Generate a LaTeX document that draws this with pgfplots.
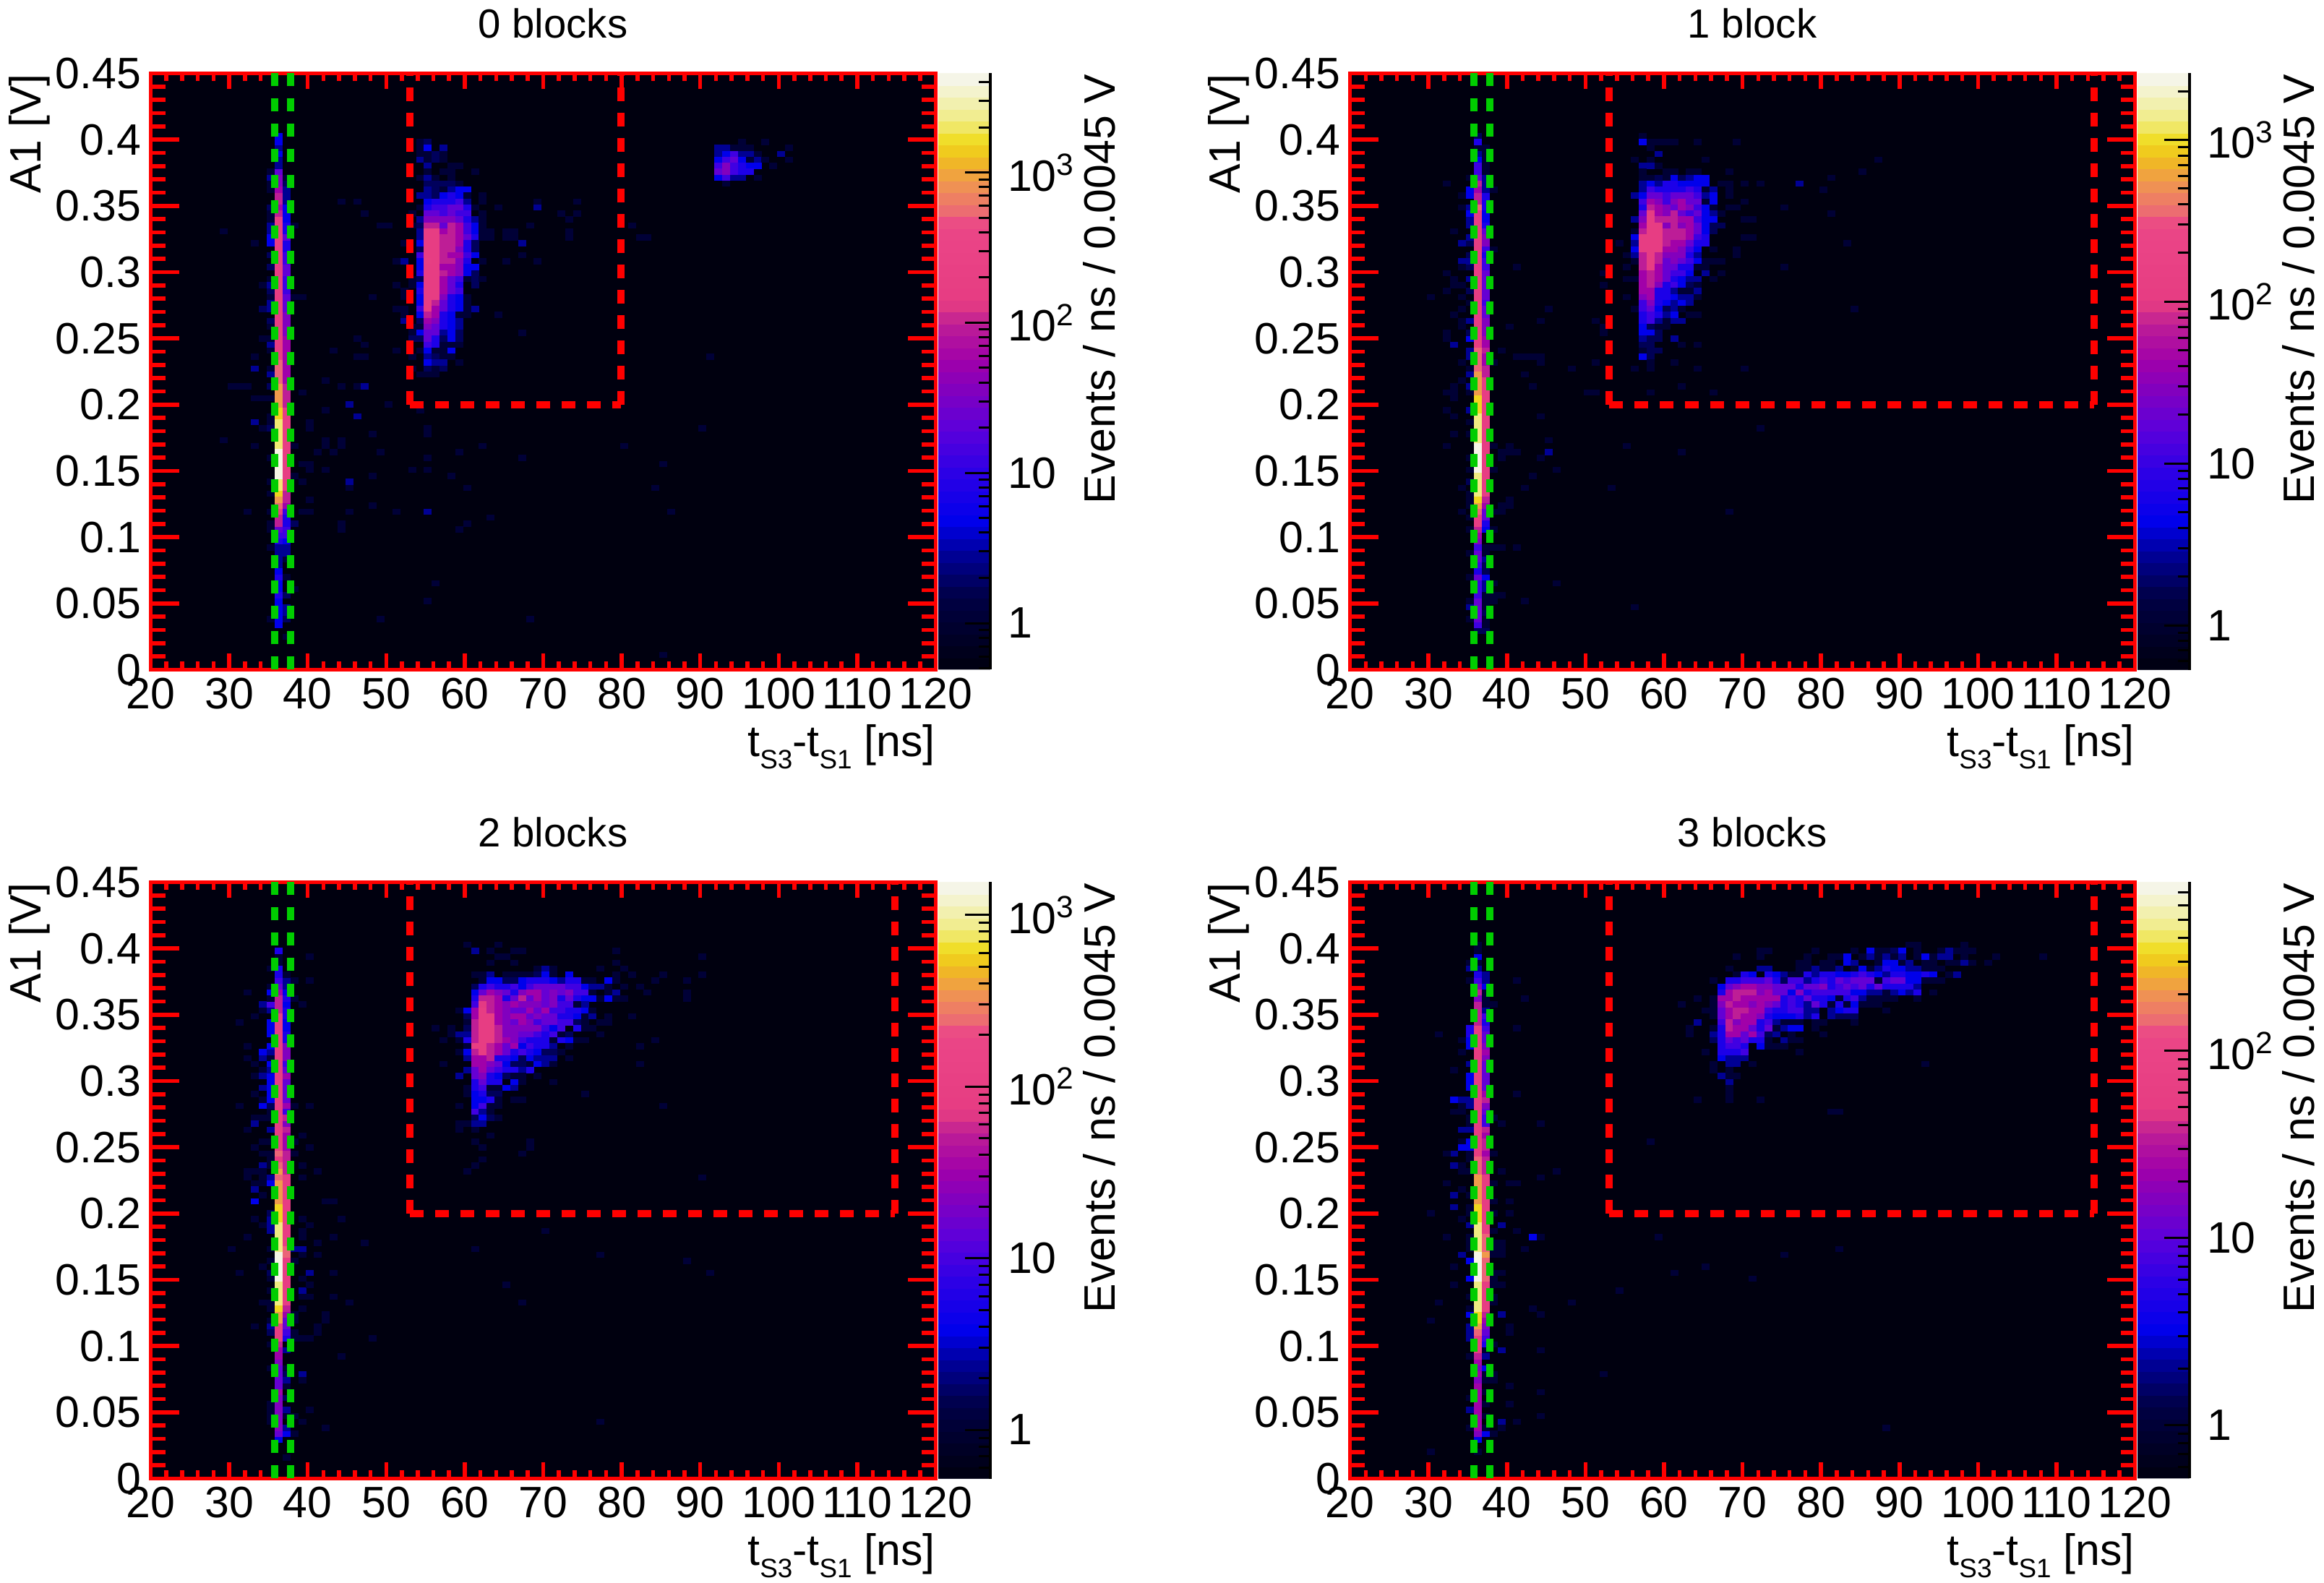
\documentclass[border=0pt]{standalone}
\usepackage{pgfplots}
\usepackage{pgfplotstable}
\usepackage{fontspec}
\setmainfont{Liberation Sans}
\pgfplotsset{compat=1.18}
\definecolor{redline}{RGB}{255,0,0}
\definecolor{greenline}{RGB}{0,205,0}
\definecolor{bgdark}{RGB}{0,0,15}
\pgfdeclareplotmark{cell}{\pgfpathrectangle{\pgfpoint{-1.1bp}{-0.84bp}}{\pgfpoint{2.2bp}{1.68bp}}\pgfusepathqfill}
\pgfplotsset{
  colormap={rootpal}{rgb255(0)=(0,0,15) rgb255(123)=(0,0,70) rgb255(193)=(0,0,150) rgb255(248)=(0,0,235)
    rgb255(331)=(45,0,230) rgb255(400)=(90,0,220) rgb255(470)=(130,0,190) rgb255(518)=(160,0,170)
    rgb255(580)=(190,30,150) rgb255(615)=(230,60,130) rgb255(747)=(235,70,135) rgb255(760)=(235,100,120)
    rgb255(816)=(240,150,80) rgb255(858)=(240,190,30) rgb255(886)=(240,220,30) rgb255(920)=(240,235,130)
    rgb255(983)=(245,245,225) rgb255(1000)=(245,245,240)}}
\newcommand{\fnt}{\fontsize{12.2}{14}\selectfont}
\newcommand{\sub}[1]{\raisebox{-0.55ex}{\fontsize{7.4}{8}\selectfont #1}}
% filled bins: x bin (ns), y bin (0.0045 V), events
% 0 blocks
\pgfplotstableread[row sep=\\]{x y z\\
36 7 4.8\\ 36 8 4.8\\ 36 9 4.8\\ 36 10 4.8\\ 36 11 4.8\\ 36 12 7.7\\ 36 13 4.8\\ 36 14 4.8\\ 36 15 7.7\\ 36 16 4.8\\ 36 17 2.8\\ 36 18 2.8\\ 36 19 2.8\\ 36 20 2.8\\ 36 21 7.7\\ 36 22 13\\ 36 23 22\\ 36 24 98\\ 36 25 98\\ 36 26 157\\ 36 27 510\\ 36 28 880\\ 36 29 1480\\ 36 30 2100\\ 36 31 2100\\ 36 32 4100\\ 36 33 4100\\ 36 34 4100\\ 36 35 4100\\ 36 36 4100\\ 36 37 2100\\ 36 38 2100\\ 36 39 2100\\ 36 40 2100\\ 36 41 2100\\ 36 42 1480\\ 36 43 1480\\ 36 44 880\\ 36 45 880\\ 36 46 880\\ 36 47 880\\ 36 48 510\\ 36 49 510\\ 36 50 510\\ 36 51 510\\
36 52 157\\ 36 53 157\\ 36 54 157\\ 36 55 157\\ 36 56 157\\ 36 57 157\\ 36 58 157\\ 36 59 157\\ 36 60 157\\ 36 61 157\\ 36 62 157\\ 36 63 157\\ 36 64 157\\ 36 65 157\\ 36 66 157\\ 36 67 157\\ 36 68 157\\ 36 69 157\\ 36 70 157\\ 36 71 157\\ 36 72 157\\ 36 73 157\\ 36 74 157\\ 36 75 157\\ 36 76 98\\ 36 77 56\\ 36 78 98\\ 36 79 98\\ 36 80 56\\ 36 81 36\\ 36 82 36\\ 36 83 22\\ 36 84 2.8\\ 36 85 2.8\\ 36 86 4.8\\ 36 87 2.8\\ 36 88 4.8\\ 36 89 4.8\\
37 5 1.1\\ 37 8 1.8\\ 37 9 2.8\\ 37 10 2.8\\ 37 12 1.8\\ 37 15 1.1\\ 37 18 1.1\\ 37 19 2.8\\ 37 20 2.8\\ 37 21 4.8\\ 37 22 13\\ 37 23 13\\ 37 24 7.7\\ 37 25 7.7\\ 37 26 13\\ 37 27 56\\ 37 28 98\\ 37 29 98\\ 37 30 157\\ 37 31 157\\ 37 32 157\\ 37 33 157\\ 37 34 157\\ 37 35 157\\ 37 36 157\\ 37 37 157\\ 37 38 157\\ 37 39 157\\ 37 40 157\\ 37 41 157\\ 37 42 157\\ 37 43 157\\ 37 44 98\\ 37 45 98\\ 37 46 98\\ 37 47 98\\ 37 48 56\\ 37 49 56\\ 37 50 56\\ 37 51 56\\ 37 52 56\\ 37 53 56\\ 37 54 56\\ 37 55 56\\ 37 56 36\\ 37 57 36\\ 37 58 36\\ 37 59 36\\ 37 60 22\\ 37 61 22\\ 37 62 22\\ 37 63 13\\ 37 64 13\\ 37 65 13\\ 37 66 22\\ 37 67 22\\ 37 68 13\\ 37 69 13\\ 37 70 7.7\\ 37 71 7.7\\ 37 72 22\\ 37 73 7.7\\ 37 74 7.7\\ 37 75 4.8\\ 37 76 4.8\\ 37 77 4.8\\ 37 78 2.8\\ 37 79 2.8\\ 37 80 2.8\\ 37 81 1.8\\ 37 82 1.1\\
35 8 1.1\\ 35 20 1.1\\ 35 23 1.1\\ 35 24 1.1\\ 35 26 1.1\\ 35 29 1.1\\ 35 31 1.1\\ 35 35 1.1\\ 35 40 1.8\\ 35 41 1.1\\ 35 42 1.1\\ 35 45 1.1\\ 35 47 1.8\\ 35 49 2.8\\ 35 50 1.1\\ 35 53 1.1\\ 35 54 2.8\\ 35 55 1.1\\ 35 57 1.1\\ 35 58 1.8\\ 35 60 2.8\\ 35 61 2.8\\ 35 62 1.1\\ 35 63 1.8\\ 35 64 2.8\\ 35 65 1.1\\ 35 67 1.8\\ 35 69 1.8\\ 35 71 4.8\\ 35 72 4.8\\ 35 73 2.8\\ 35 74 2.8\\ 35 75 1.1\\ 35 76 1.1\\ 35 77 1.8\\ 35 80 1.1\\ 35 81 1.1\\ 35 82 2.8\\ 35 83 1.1\\
29 73 1.1\\ 29 38 1.1\\ 33 52 1.1\\ 33 50 2.8\\ 33 41 2.8\\ 33 37 1.1\\ 33 45 1.1\\ 33 71 1.1\\ 34 60 1.8\\ 34 64 1.1\\ 34 55 1.1\\ 34 45 1.1\\ 34 40 1.1\\ 30 47 1.1\\ 31 47 1.1\\ 32 47 1.1\\ 32 26 1.1\\
38 74 1.1\\ 38 62 1.1\\ 38 37 1.1\\ 38 32 1.1\\ 38 24 1.8\\ 38 13 1.1\\ 39 62 1.1\\ 39 46 1.1\\ 39 34 1.1\\ 39 31 1.1\\ 39 26 1.1\\ 40 40 1.1\\ 40 34 1.1\\ 40 28 1.1\\ 40 26 1.1\\ 41 36 1.1\\ 42 48 1.1\\ 42 43 1.1\\ 42 37 1.1\\ 42 33 1.1\\ 43 53 1.1\\ 43 36 1.1\\ 44 78 1.1\\ 44 47 1.1\\ 44 37 1.1\\ 44 24 1.1\\ 45 44 2.8\\ 45 31 2.8\\ 45 30 1.1\\ 45 26 1.1\\ 46 78 1.1\\ 46 55 1.1\\ 46 52 1.1\\ 46 47 1.1\\ 46 42 2.8\\
54 88 1.1\\ 55 88 1.8\\ 54 87 1.1\\ 55 87 4.8\\ 57 87 2.8\\ 54 86 1.1\\ 55 86 1.1\\ 56 86 1.8\\ 57 86 1.1\\ 54 85 2.8\\ 55 85 1.1\\ 56 85 1.8\\ 57 85 1.1\\ 55 84 2.8\\ 58 84 1.1\\ 59 84 1.1\\ 55 83 1.1\\ 57 83 1.1\\ 58 83 1.1\\ 61 83 1.1\\ 54 82 1.1\\ 55 82 2.8\\ 56 82 1.1\\ 58 82 1.1\\ 55 81 1.8\\ 56 81 1.8\\ 57 81 1.8\\ 58 81 1.8\\ 59 81 1.1\\
55 80 2.8\\ 56 80 1.8\\ 57 80 1.1\\ 58 80 2.8\\ 59 80 4.8\\ 60 80 4.8\\ 54 79 2.8\\ 55 79 2.8\\ 56 79 1.8\\ 57 79 4.8\\ 58 79 7.7\\ 59 79 4.8\\ 60 79 1.1\\ 62 79 1.1\\ 55 78 4.8\\ 56 78 7.7\\ 57 78 7.7\\ 58 78 7.7\\ 59 78 13\\ 60 78 2.8\\ 62 78 1.1\\ 69 78 1.1\\ 74 78 1.1\\ 54 77 1.1\\ 55 77 7.7\\ 56 77 13\\ 57 77 13\\ 58 77 22\\ 59 77 22\\ 60 77 7.7\\ 61 77 1.1\\ 64 77 1.1\\ 69 77 2.8\\
47 76 1.1\\ 53 76 1.1\\ 55 76 22\\ 56 76 22\\ 57 76 13\\ 58 76 22\\ 59 76 13\\ 60 76 13\\ 62 76 1.1\\ 72 76 1.1\\ 74 76 1.1\\ 54 75 2.8\\ 55 75 36\\ 56 75 36\\ 57 75 36\\ 58 75 36\\ 59 75 22\\ 60 75 7.7\\ 61 75 2.8\\ 62 75 1.1\\ 73 75 1.1\\ 49 74 1.1\\ 50 74 1.1\\ 53 74 1.1\\ 54 74 1.8\\ 55 74 98\\ 56 74 98\\ 57 74 22\\ 58 74 98\\ 59 74 56\\ 60 74 13\\ 61 74 4.8\\ 62 74 1.1\\ 68 74 1.1\\ 81 74 1.1\\
54 73 2.8\\ 55 73 157\\ 56 73 157\\ 57 73 56\\ 58 73 98\\ 59 73 56\\ 60 73 13\\ 61 73 4.8\\ 62 73 1.1\\ 63 73 1.1\\ 65 73 1.1\\ 66 73 1.1\\ 73 73 1.1\\ 54 72 2.8\\ 55 72 157\\ 56 72 157\\ 57 72 98\\ 58 72 98\\ 59 72 56\\ 60 72 22\\ 61 72 7.7\\ 62 72 1.1\\ 63 72 1.1\\ 65 72 1.1\\ 66 72 1.1\\ 73 72 1.1\\ 82 72 1.1\\ 83 72 1.1\\
52 71 1.1\\ 54 71 4.8\\ 55 71 157\\ 56 71 157\\ 57 71 98\\ 58 71 98\\ 59 71 56\\ 60 71 7.7\\ 61 71 1.8\\ 67 71 2.8\\ 54 70 1.8\\ 55 70 157\\ 56 70 157\\ 57 70 98\\ 58 70 98\\ 59 70 36\\ 60 70 7.7\\ 61 70 1.8\\ 54 69 13\\ 55 69 157\\ 56 69 157\\ 57 69 98\\ 58 69 56\\ 59 69 56\\ 60 69 13\\ 61 69 4.8\\ 67 69 1.1\\
51 68 1.1\\ 52 68 2.8\\ 54 68 4.8\\ 55 68 190\\ 56 68 157\\ 57 68 98\\ 58 68 98\\ 59 68 36\\ 60 68 7.7\\ 62 68 1.1\\ 65 68 1.1\\ 69 68 1.1\\ 54 67 4.8\\ 55 67 157\\ 56 67 157\\ 57 67 56\\ 58 67 56\\ 59 67 36\\ 60 67 4.8\\ 61 67 4.8\\ 54 66 7.7\\ 55 66 157\\ 56 66 157\\ 57 66 98\\ 58 66 56\\ 59 66 36\\ 60 66 4.8\\ 61 66 1.8\\
53 65 1.1\\ 54 65 1.8\\ 55 65 157\\ 56 65 157\\ 57 65 56\\ 58 65 22\\ 59 65 13\\ 60 65 1.1\\ 61 65 1.8\\ 62 65 1.1\\ 51 64 1.1\\ 53 64 1.1\\ 54 64 4.8\\ 55 64 157\\ 56 64 157\\ 57 64 56\\ 58 64 22\\ 59 64 7.7\\ 61 64 1.8\\ 52 63 1.1\\ 54 63 7.7\\ 55 63 157\\ 56 63 157\\ 57 63 56\\ 58 63 22\\ 59 63 13\\
48 62 1.1\\ 52 62 1.1\\ 54 62 4.8\\ 55 62 157\\ 56 62 157\\ 57 62 36\\ 58 62 7.7\\ 59 62 4.8\\ 60 62 1.1\\ 54 61 4.8\\ 55 61 157\\ 56 61 98\\ 57 61 22\\ 58 61 7.7\\ 59 61 4.8\\ 60 61 1.1\\ 51 60 1.1\\ 52 60 1.1\\ 54 60 13\\ 55 60 157\\ 56 60 56\\ 57 60 22\\ 58 60 7.7\\ 59 60 4.8\\ 60 60 1.1\\ 61 60 2.8\\
52 59 1.1\\ 54 59 4.8\\ 55 59 98\\ 56 59 56\\ 57 59 7.7\\ 58 59 4.8\\ 59 59 1.1\\ 60 59 1.1\\ 64 59 1.1\\ 52 58 2.8\\ 54 58 1.8\\ 55 58 56\\ 56 58 36\\ 57 58 7.7\\ 58 58 4.8\\ 59 58 2.8\\ 53 57 1.1\\ 54 57 1.1\\ 55 57 36\\ 56 57 22\\ 57 57 7.7\\ 58 57 4.8\\ 59 57 2.8\\ 53 56 1.1\\ 54 56 4.8\\ 55 56 22\\ 56 56 22\\ 57 56 2.8\\ 58 56 4.8\\ 59 56 1.8\\ 67 56 1.1\\
53 55 1.8\\ 54 55 1.8\\ 55 55 22\\ 56 55 7.7\\ 57 55 1.8\\ 58 55 4.8\\ 59 55 1.8\\ 47 54 1.1\\ 55 54 13\\ 56 54 7.7\\ 57 54 1.1\\ 58 54 1.1\\ 59 54 1.1\\ 51 53 1.1\\ 54 53 1.1\\ 55 53 4.8\\ 56 53 1.1\\ 57 53 1.1\\ 58 53 4.8\\ 47 52 1.1\\ 53 52 1.1\\ 55 52 2.8\\ 56 52 1.8\\ 57 52 1.1\\ 58 52 1.1\\ 91 52 1.1\\ 55 51 4.8\\ 56 51 2.8\\ 57 51 2.8\\ 59 51 1.1\\ 53 50 1.1\\ 55 50 1.8\\ 56 50 1.1\\ 57 50 1.8\\ 54 49 1.1\\ 55 49 1.1\\ 56 49 1.1\\ 47 47 2.8\\
95 88 1.1\\ 98 88 1.1\\ 92 87 2.8\\ 93 87 2.8\\ 94 87 1.1\\ 95 87 1.1\\ 96 87 1.1\\ 101 87 1.1\\ 92 86 2.8\\ 93 86 4.8\\ 94 86 13\\ 95 86 2.8\\ 96 86 2.8\\ 97 86 1.1\\ 100 86 2.8\\ 92 85 4.8\\ 93 85 13\\ 94 85 22\\ 95 85 4.8\\ 96 85 1.1\\ 97 85 2.8\\ 98 85 1.1\\ 101 85 1.1\\ 92 84 13\\ 93 84 36\\ 94 84 13\\ 95 84 7.7\\ 96 84 4.8\\ 97 84 4.8\\ 99 84 1.1\\ 92 83 22\\ 93 83 36\\ 94 83 13\\ 95 83 7.7\\ 96 83 7.7\\ 92 82 4.8\\ 93 82 13\\ 94 82 2.8\\ 95 82 2.8\\ 97 82 1.1\\ 93 81 1.1\\
42 43 1.1\\ 46 42 2.8\\ 50 44 1.1\\ 54 43 1.1\\ 55 40 1.1\\ 55 39 1.1\\ 40 41 1.1\\ 48 39 1.1\\ 42 38 1.1\\ 44 38 1.1\\ 41 36 1.1\\ 43 36 1.1\\ 49 36 1.1\\ 62 37 1.1\\ 59 36 1.1\\ 55 35 1.1\\ 67 35 1.1\\ 80 37 1.1\\ 90 40 1.1\\ 85 34 1.1\\ 40 33 1.1\\ 53 33 1.1\\ 55 33 1.1\\ 48 32 1.1\\ 58 32 1.1\\ 60 30 1.1\\ 84 30 1.1\\ 48 27 1.1\\ 51 26 1.1\\ 55 26 2.8\\ 86 26 1.1\\ 63 25 1.1\\ 44 23 1.1\\ 60 24 1.1\\ 59 23 1.1\\ 56 14 1.1\\ 55 11 1.1\\ 49 8 1.1\\ 68 8 1.1\\ 85 2 1.1\\
}\dataA
% 1 block
\pgfplotstableread[row sep=\\]{x y z\\
36 6 1.7\\ 36 7 11\\ 36 8 19\\ 36 9 19\\ 36 10 19\\ 36 11 19\\ 36 12 11\\ 36 13 11\\ 36 14 11\\ 36 15 19\\ 36 16 6.8\\ 36 17 11\\ 36 18 19\\ 36 19 19\\ 36 20 11\\ 36 21 29\\ 36 22 44\\ 36 23 72\\ 36 24 112\\ 36 25 112\\ 36 26 336\\ 36 27 560\\ 36 28 931\\ 36 29 1306\\ 36 30 1306\\ 36 31 1306\\ 36 32 1306\\ 36 33 2366\\ 36 34 2366\\ 36 35 2366\\ 36 36 2366\\ 36 37 2366\\ 36 38 1306\\ 36 39 1306\\ 36 40 1306\\ 36 41 1306\\ 36 42 1306\\ 36 43 931\\ 36 44 931\\ 36 45 931\\ 36 46 560\\ 36 47 560\\ 36 48 560\\ 36 49 560\\ 36 50 336\\ 36 51 336\\ 36 52 336\\ 36 53 336\\
36 54 112\\ 36 55 112\\ 36 56 112\\ 36 57 112\\ 36 58 112\\ 36 59 112\\ 36 60 112\\ 36 61 112\\ 36 62 112\\ 36 63 112\\ 36 64 112\\ 36 65 112\\ 36 66 112\\ 36 67 112\\ 36 68 112\\ 36 69 112\\ 36 70 112\\ 36 71 112\\ 36 72 112\\ 36 73 112\\ 36 74 112\\ 36 75 112\\ 36 76 112\\ 36 77 336\\ 36 78 72\\ 36 79 72\\ 36 80 44\\ 36 81 72\\ 36 82 19\\ 36 83 11\\ 36 84 11\\ 36 85 4.4\\ 36 86 2.7\\ 36 87 1.1\\ 36 88 6.8\\ 36 89 1.7\\
37 6 1.7\\ 37 7 1.1\\ 37 8 1.1\\ 37 9 1.7\\ 37 10 1.1\\ 37 11 1.1\\ 37 12 1.1\\ 37 13 2.7\\ 37 14 2.7\\ 37 15 4.4\\ 37 16 1.7\\ 37 17 1.7\\ 37 18 2.7\\ 37 19 1.1\\ 37 20 1.1\\ 37 23 4.4\\ 37 24 6.8\\ 37 25 19\\ 37 26 19\\ 37 27 44\\ 37 28 72\\ 37 29 112\\ 37 30 112\\ 37 31 112\\ 37 32 112\\ 37 33 112\\ 37 34 112\\ 37 35 112\\ 37 36 112\\ 37 37 112\\ 37 38 112\\ 37 39 112\\ 37 40 112\\ 37 41 112\\ 37 42 112\\ 37 43 112\\ 37 44 112\\ 37 45 112\\ 37 46 112\\ 37 47 112\\ 37 48 112\\ 37 49 72\\ 37 50 72\\ 37 51 44\\ 37 52 44\\ 37 53 72\\ 37 54 44\\ 37 55 44\\ 37 56 29\\ 37 57 29\\ 37 58 29\\ 37 59 19\\ 37 60 19\\ 37 61 11\\ 37 62 19\\ 37 63 19\\ 37 64 19\\ 37 65 19\\ 37 66 19\\ 37 67 11\\ 37 68 11\\ 37 69 6.8\\ 37 70 11\\ 37 71 29\\ 37 72 29\\ 37 73 19\\ 37 74 6.8\\ 37 75 4.4\\ 37 76 4.4\\ 37 77 6.8\\ 37 78 6.8\\ 37 79 6.8\\ 37 80 2.7\\ 37 81 2.7\\ 37 82 2.7\\ 37 83 1.1\\ 37 84 1.1\\ 37 85 1.1\\ 37 86 1.1\\ 37 87 1.1\\
35 8 1.1\\ 35 10 2.7\\ 35 11 1.1\\ 35 15 1.1\\ 35 19 1.1\\ 35 23 1.1\\ 35 25 1.1\\ 35 27 1.1\\ 35 28 1.1\\ 35 29 1.1\\ 35 31 1.7\\ 35 33 1.1\\ 35 35 1.1\\ 35 39 1.1\\ 35 41 1.1\\ 35 43 2.7\\ 35 46 1.1\\ 35 47 2.7\\ 35 49 2.7\\ 35 50 1.1\\ 35 52 2.7\\ 35 53 2.7\\ 35 55 4.4\\ 35 56 1.7\\ 35 58 2.7\\ 35 61 1.1\\ 35 63 1.7\\ 35 65 2.7\\ 35 67 1.7\\ 35 68 2.7\\ 35 69 1.7\\ 35 71 1.7\\ 35 72 2.7\\ 35 74 2.7\\ 35 75 2.7\\ 35 76 4.4\\ 35 77 2.7\\ 35 79 4.4\\ 35 80 4.4\\ 35 82 1.1\\
34 79 1.1\\ 34 77 1.1\\ 34 71 2.7\\ 34 68 2.7\\ 34 67 1.1\\ 34 64 1.1\\ 34 62 1.1\\ 34 60 1.1\\ 34 58 1.1\\ 34 57 1.1\\ 34 51 1.1\\ 34 48 1.1\\ 34 30 1.1\\ 34 26 1.1\\ 33 73 1.1\\ 33 65 1.1\\ 33 64 1.1\\ 33 59 1.1\\ 33 54 2.7\\ 33 47 1.1\\ 33 46 1.1\\ 33 45 1.1\\ 33 42 1.1\\ 33 39 1.1\\ 32 81 1.1\\ 32 66 1.1\\ 32 63 1.1\\ 32 56 1.1\\ 32 55 1.1\\ 32 46 1.1\\ 32 43 1.1\\ 32 37 1.1\\ 30 62 1.1\\
38 80 1.1\\ 38 70 1.1\\ 38 51 1.1\\ 38 37 1.1\\ 38 33 1.1\\ 38 26 1.1\\ 38 23 1.1\\ 38 20 1.1\\ 38 14 1.1\\ 38 12 1.1\\ 38 11 1.1\\ 39 53 1.1\\ 39 36 1.1\\ 39 35 1.1\\ 39 27 1.1\\ 39 26 1.1\\ 39 20 1.1\\ 39 12 1.1\\ 40 57 1.1\\ 40 37 1.1\\ 40 36 1.1\\ 40 28 1.1\\ 41 67 1.1\\ 41 52 1.1\\ 41 36 1.1\\ 41 20 1.1\\ 42 52 1.1\\ 42 49 1.1\\ 42 30 1.1\\ 42 11 1.1\\ 43 52 1.1\\ 43 47 1.1\\ 43 32 1.1\\ 44 58 1.1\\ 44 52 1.1\\ 44 51 1.1\\ 44 42 1.1\\ 45 60 1.1\\ 45 36 2.7\\ 45 38 1.1\\
57 89 1.1\\ 57 88 4.4\\ 58 88 1.1\\ 59 88 1.1\\ 60 88 1.1\\ 61 88 1.1\\ 64 88 1.1\\ 69 88 1.1\\ 58 87 1.1\\ 59 86 2.7\\ 56 85 1.1\\ 58 85 1.1\\ 65 85 1.1\\ 87 85 1.1\\ 57 84 2.7\\ 58 84 2.7\\ 59 84 1.1\\ 57 83 1.1\\ 60 83 1.1\\ 61 83 1.1\\ 63 83 1.1\\ 64 83 1.1\\ 68 83 1.1\\ 85 83 1.1\\ 57 82 1.1\\ 58 82 1.1\\ 59 82 1.7\\ 60 82 1.1\\ 61 82 4.4\\ 62 82 1.7\\ 63 82 2.7\\ 64 82 4.4\\ 65 82 4.4\\ 81 82 1.1\\
57 81 2.7\\ 58 81 4.4\\ 59 81 2.7\\ 60 81 6.8\\ 61 81 6.8\\ 62 81 4.4\\ 63 81 4.4\\ 64 81 4.4\\ 65 81 4.4\\ 67 81 1.1\\ 68 81 1.1\\ 70 81 1.1\\ 72 81 1.1\\ 77 81 2.7\\ 57 80 2.7\\ 58 80 11\\ 59 80 6.8\\ 60 80 6.8\\ 61 80 6.8\\ 62 80 6.8\\ 63 80 11\\ 64 80 6.8\\ 65 80 1.1\\ 66 80 2.7\\ 68 80 1.1\\ 80 80 1.1\\ 56 79 2.7\\ 57 79 4.4\\ 58 79 19\\ 59 79 19\\ 60 79 11\\ 61 79 19\\ 62 79 19\\ 63 79 19\\ 64 79 11\\ 65 79 2.7\\ 66 79 4.4\\ 68 79 1.1\\
57 78 11\\ 58 78 44\\ 59 78 29\\ 60 78 11\\ 61 78 29\\ 62 78 44\\ 63 78 19\\ 64 78 19\\ 65 78 1.1\\ 66 78 4.4\\ 70 78 1.1\\ 57 77 6.8\\ 58 77 72\\ 59 77 44\\ 60 77 29\\ 61 77 19\\ 62 77 44\\ 63 77 29\\ 64 77 11\\ 65 77 4.4\\ 66 77 1.1\\ 68 77 1.1\\ 69 77 1.1\\ 75 77 1.1\\ 57 76 19\\ 58 76 100\\ 59 76 44\\ 60 76 29\\ 61 76 72\\ 62 76 19\\ 63 76 11\\ 64 76 19\\ 65 76 4.4\\ 66 76 2.7\\ 67 76 1.1\\ 81 76 1.1\\
56 75 2.7\\ 57 75 29\\ 58 75 112\\ 59 75 72\\ 60 75 72\\ 61 75 72\\ 62 75 44\\ 63 75 44\\ 64 75 11\\ 65 75 4.4\\ 66 75 4.4\\ 70 75 1.1\\ 71 75 1.1\\ 57 74 44\\ 58 74 112\\ 59 74 112\\ 60 74 29\\ 61 74 72\\ 62 74 29\\ 63 74 44\\ 64 74 19\\ 65 74 4.4\\ 66 74 1.7\\ 67 74 1.7\\ 56 73 1.1\\ 57 73 72\\ 58 73 112\\ 59 73 112\\ 60 73 72\\ 61 73 72\\ 62 73 72\\ 63 73 44\\ 64 73 19\\ 65 73 4.4\\ 66 73 1.7\\
56 72 4.4\\ 57 72 112\\ 58 72 112\\ 59 72 112\\ 60 72 72\\ 61 72 72\\ 62 72 72\\ 63 72 44\\ 64 72 11\\ 65 72 6.8\\ 70 72 1.1\\ 71 72 1.1\\ 54 71 1.1\\ 56 71 2.7\\ 57 71 112\\ 58 71 112\\ 59 71 112\\ 60 71 72\\ 61 71 44\\ 62 71 44\\ 63 71 19\\ 64 71 6.8\\ 65 71 6.8\\ 83 71 1.1\\ 56 70 4.4\\ 57 70 112\\ 58 70 112\\ 59 70 112\\ 60 70 44\\ 61 70 44\\ 62 70 29\\ 63 70 11\\ 64 70 4.4\\ 66 70 1.1\\ 69 70 1.1\\
55 69 1.1\\ 56 69 2.7\\ 57 69 72\\ 58 69 112\\ 59 69 72\\ 60 69 29\\ 61 69 29\\ 62 69 29\\ 63 69 6.8\\ 64 69 2.7\\ 69 69 1.1\\ 56 68 1.1\\ 57 68 72\\ 58 68 112\\ 59 68 72\\ 60 68 19\\ 61 68 29\\ 62 68 19\\ 63 68 11\\ 64 68 4.4\\ 65 68 1.1\\ 66 68 1.1\\ 67 68 1.1\\ 55 67 1.1\\ 57 67 72\\ 58 67 112\\ 59 67 44\\ 60 67 19\\ 61 67 19\\ 62 67 6.8\\ 63 67 6.8\\ 64 67 1.1\\ 65 67 1.1\\ 75 67 1.1\\
52 66 1.1\\ 57 66 44\\ 58 66 72\\ 59 66 44\\ 60 66 19\\ 61 66 11\\ 62 66 11\\ 63 66 4.4\\ 65 66 2.7\\ 67 66 1.1\\ 55 65 1.1\\ 56 65 1.1\\ 57 65 44\\ 58 65 72\\ 59 65 44\\ 60 65 19\\ 61 65 6.8\\ 62 65 4.4\\ 63 65 2.7\\ 64 65 2.7\\ 66 65 1.1\\ 52 64 1.1\\ 57 64 44\\ 58 64 72\\ 59 64 29\\ 60 64 6.8\\ 61 64 11\\ 62 64 4.4\\ 63 64 1.7\\ 64 64 1.1\\ 57 63 44\\ 58 63 44\\ 59 63 6.8\\ 60 63 6.8\\ 61 63 2.7\\ 62 63 1.1\\ 63 63 1.1\\ 64 63 2.7\\
55 62 1.1\\ 57 62 29\\ 58 62 44\\ 59 62 6.8\\ 60 62 6.8\\ 61 62 4.4\\ 62 62 2.7\\ 63 62 2.7\\ 64 62 1.1\\ 57 61 11\\ 58 61 29\\ 59 61 6.8\\ 60 61 4.4\\ 61 61 2.7\\ 62 61 4.4\\ 63 61 2.7\\ 56 60 1.1\\ 57 60 11\\ 58 60 19\\ 59 60 4.4\\ 60 60 1.7\\ 61 60 2.7\\ 62 60 1.1\\ 84 60 1.1\\ 57 59 6.8\\ 58 59 11\\ 59 59 6.8\\ 60 59 2.7\\ 61 59 4.4\\ 63 59 1.1\\ 64 59 1.1\\
51 58 1.1\\ 57 58 6.8\\ 58 58 11\\ 59 58 2.7\\ 60 58 1.1\\ 61 58 2.7\\ 62 58 2.7\\ 57 57 4.4\\ 58 57 1.7\\ 59 57 1.1\\ 60 57 1.1\\ 52 56 1.1\\ 57 56 4.4\\ 58 56 4.4\\ 59 56 1.7\\ 57 55 2.7\\ 58 55 1.7\\ 59 55 1.7\\ 61 55 2.7\\ 57 54 1.7\\ 58 54 1.7\\ 62 54 1.1\\ 64 54 1.1\\ 57 53 1.1\\ 58 53 1.7\\ 59 53 1.7\\ 57 52 4.4\\ 58 52 1.7\\ 51 51 1.1\\ 58 51 1.1\\ 61 51 1.1\\ 56 50 1.1\\ 58 50 1.1\\ 64 50 1.1\\ 70 50 1.1\\ 62 47 1.1\\ 51 46 1.1\\ 58 46 1.1\\ 66 46 1.1\\
44 35 1.1\\ 46 33 1.1\\ 53 30 1.1\\ 55 37 1.1\\ 68 26 1.1\\ 40 27 1.1\\ 46 14 1.1\\ 56 10 1.1\\ 72 40 1.1\\ 62 36 1.1\\ 48 50 1.1\\ 50 46 1.1\\ 52 57 1.1\\
}\dataB
% 2 blocks
\pgfplotstableread[row sep=\\]{x y z\\
36 6 3.8\\ 36 7 15\\ 36 8 22\\ 36 9 22\\ 36 10 22\\ 36 11 22\\ 36 12 22\\ 36 13 22\\ 36 14 33\\ 36 15 15\\ 36 16 15\\ 36 17 15\\ 36 18 15\\ 36 19 22\\ 36 20 33\\ 36 21 33\\ 36 22 54\\ 36 23 80\\ 36 24 80\\ 36 25 80\\ 36 26 367\\ 36 27 367\\ 36 28 593\\ 36 29 817\\ 36 30 817\\ 36 31 817\\ 36 32 817\\ 36 33 1430\\ 36 34 1430\\ 36 35 1430\\ 36 36 1430\\ 36 37 1430\\ 36 38 817\\ 36 39 817\\ 36 40 817\\ 36 41 817\\ 36 42 817\\ 36 43 593\\ 36 44 593\\ 36 45 593\\ 36 46 367\\ 36 47 367\\ 36 48 367\\ 36 49 367\\ 36 50 227\\ 36 51 367\\ 36 52 227\\ 36 53 80\\ 36 54 227\\
36 55 80\\ 36 56 80\\ 36 57 80\\ 36 58 80\\ 36 59 80\\ 36 60 80\\ 36 61 80\\ 36 62 80\\ 36 63 80\\ 36 64 80\\ 36 65 80\\ 36 66 80\\ 36 67 80\\ 36 68 80\\ 36 69 80\\ 36 70 80\\ 36 71 80\\ 36 72 80\\ 36 73 80\\ 36 74 80\\ 36 75 80\\ 36 76 80\\ 36 77 80\\ 36 78 54\\ 36 79 54\\ 36 80 54\\ 36 81 33\\ 36 82 15\\ 36 83 9.3\\ 36 84 5.7\\ 36 85 5.7\\ 36 86 1.07\\ 36 87 1.07\\ 36 88 5.7\\
37 3 1.07\\ 37 7 3.8\\ 37 8 2.4\\ 37 10 1.07\\ 37 11 2.4\\ 37 13 1.6\\ 37 15 1.07\\ 37 16 2.4\\ 37 17 1.6\\ 37 18 1.07\\ 37 21 2.4\\ 37 23 5.7\\ 37 24 9.3\\ 37 25 15\\ 37 26 15\\ 37 27 33\\ 37 28 54\\ 37 29 80\\ 37 30 80\\ 37 31 80\\ 37 32 80\\ 37 33 80\\ 37 34 80\\ 37 35 80\\ 37 36 80\\ 37 37 227\\ 37 38 227\\ 37 39 80\\ 37 40 80\\ 37 41 80\\ 37 42 80\\ 37 43 80\\ 37 44 80\\ 37 45 80\\ 37 46 80\\ 37 47 80\\ 37 48 80\\ 37 49 80\\ 37 50 80\\ 37 51 54\\ 37 52 54\\ 37 53 54\\ 37 54 54\\ 37 55 33\\ 37 56 33\\ 37 57 33\\ 37 58 54\\ 37 59 22\\ 37 60 54\\ 37 61 9.3\\ 37 62 33\\ 37 63 15\\ 37 64 15\\ 37 65 15\\ 37 66 15\\ 37 67 33\\ 37 68 15\\ 37 69 9.3\\ 37 70 22\\ 37 71 22\\ 37 72 22\\ 37 73 5.7\\ 37 74 5.7\\ 37 75 3.8\\ 37 76 3.8\\ 37 77 5.7\\ 37 78 5.7\\ 37 79 3.8\\ 37 80 5.7\\ 37 81 3.8\\ 37 82 2.4\\ 37 83 2.4\\ 37 84 1.07\\
35 9 1.07\\ 35 10 1.07\\ 35 11 1.07\\ 35 12 1.07\\ 35 18 1.07\\ 35 22 1.07\\ 35 24 1.6\\ 35 25 2.4\\ 35 26 1.07\\ 35 28 1.07\\ 35 29 1.07\\ 35 31 1.07\\ 35 33 1.07\\ 35 34 1.6\\ 35 36 1.07\\ 35 38 1.07\\ 35 41 2.4\\ 35 42 2.4\\ 35 43 2.4\\ 35 44 1.6\\ 35 49 3.8\\ 35 50 2.4\\ 35 52 1.07\\ 35 53 1.07\\ 35 54 1.07\\ 35 56 1.07\\ 35 58 2.4\\ 35 60 1.07\\ 35 61 1.07\\ 35 62 1.6\\ 35 63 3.8\\ 35 64 3.8\\ 35 65 3.8\\ 35 66 3.8\\ 35 67 3.8\\ 35 68 2.4\\ 35 69 3.8\\ 35 70 1.07\\ 35 71 2.4\\ 35 72 3.8\\ 35 74 3.8\\ 35 75 3.8\\ 35 76 3.8\\ 35 78 2.4\\ 35 79 9.3\\ 35 80 1.07\\ 35 81 3.8\\ 35 82 1.07\\ 35 85 1.07\\
34 79 2.4\\ 34 78 1.07\\ 34 71 3.8\\ 34 70 2.4\\ 34 68 1.07\\ 34 67 2.4\\ 34 65 2.4\\ 34 63 1.07\\ 34 62 3.8\\ 34 60 1.07\\ 34 56 1.07\\ 34 54 1.07\\ 34 52 2.4\\ 34 51 1.07\\ 34 50 1.07\\ 34 49 1.07\\ 34 47 1.07\\ 34 42 1.07\\ 34 35 1.07\\ 34 29 1.07\\ 33 77 1.07\\ 33 69 1.07\\ 33 67 1.07\\ 33 64 1.07\\ 33 60 1.07\\ 33 59 2.4\\ 33 55 1.07\\ 33 51 1.07\\ 33 49 1.07\\ 33 48 2.4\\ 33 46 3.8\\ 33 43 1.07\\ 33 25 1.07\\ 32 81 1.07\\ 32 72 1.07\\ 32 70 1.07\\ 32 58 1.07\\ 32 51 1.07\\ 32 50 1.07\\ 32 40 1.07\\ 31 76 1.07\\ 31 62 1.07\\ 31 34 1.07\\ 30 38 1.07\\
38 83 1.07\\ 38 80 1.07\\ 38 62 1.07\\ 38 56 1.07\\ 38 54 1.07\\ 38 38 2.4\\ 38 36 1.07\\ 38 27 1.07\\ 38 26 1.07\\ 38 24 1.07\\ 38 23 1.07\\ 38 10 1.07\\ 38 7 1.07\\ 39 79 1.07\\ 39 57 1.07\\ 39 52 1.07\\ 39 50 1.07\\ 39 43 1.07\\ 39 41 1.07\\ 39 40 1.07\\ 39 38 2.4\\ 39 37 1.07\\ 39 33 1.07\\ 39 31 2.4\\ 39 30 1.07\\ 39 28 1.07\\ 39 23 1.07\\ 39 17 2.4\\ 39 16 1.07\\ 39 9 1.07\\ 40 87 1.07\\ 40 83 1.07\\ 40 62 1.07\\ 40 55 1.07\\ 40 42 1.07\\ 40 34 2.4\\ 40 32 1.07\\ 40 30 1.07\\ 40 23 1.07\\ 40 11 1.07\\ 41 39 1.07\\ 41 37 1.07\\ 41 25 1.07\\ 41 24 1.07\\ 42 46 1.07\\ 42 27 1.07\\ 42 26 1.07\\ 42 8 1.07\\ 43 46 1.07\\ 43 40 1.07\\ 43 34 1.07\\ 43 30 1.07\\ 44 43 1.07\\ 44 20 1.07\\
60 89 1.07\\ 64 89 1.07\\ 61 88 2.4\\ 63 88 1.07\\ 66 88 1.07\\ 67 88 1.07\\ 79 88 1.07\\ 64 87 1.07\\ 65 87 1.07\\ 90 87 1.07\\ 63 86 1.07\\ 66 86 1.07\\ 79 86 1.07\\ 69 85 1.07\\ 70 85 2.4\\ 71 85 1.07\\ 77 85 1.07\\ 80 85 1.07\\ 61 84 1.07\\ 62 84 1.07\\ 63 84 2.4\\ 65 84 1.07\\ 66 84 1.07\\ 67 84 1.07\\ 68 84 1.07\\ 69 84 1.6\\ 70 84 3.8\\ 71 84 1.07\\ 73 84 3.8\\ 79 84 1.07\\ 81 84 1.07\\ 85 84 1.07\\ 90 84 1.07\\
62 83 1.07\\ 63 83 3.8\\ 64 83 3.8\\ 65 83 1.6\\ 66 83 1.6\\ 67 83 3.8\\ 68 83 5.7\\ 69 83 5.7\\ 70 83 5.7\\ 71 83 3.8\\ 72 83 2.4\\ 73 83 5.7\\ 74 83 5.7\\ 75 83 1.07\\ 76 83 1.07\\ 78 83 3.8\\ 79 83 1.07\\ 84 83 1.07\\ 88 83 1.07\\ 61 82 1.6\\ 62 82 5.7\\ 63 82 9.3\\ 64 82 5.7\\ 65 82 5.7\\ 66 82 9.3\\ 67 82 3.8\\ 68 82 9.3\\ 69 82 15\\ 70 82 15\\ 71 82 15\\ 72 82 15\\ 73 82 9.3\\ 74 82 9.3\\ 75 82 3.8\\ 76 82 2.4\\ 77 82 2.4\\ 78 82 1.07\\ 80 82 1.07\\ 82 82 1.07\\
61 81 3.8\\ 62 81 15\\ 63 81 33\\ 64 81 22\\ 65 81 15\\ 66 81 5.7\\ 67 81 22\\ 68 81 33\\ 69 81 33\\ 70 81 15\\ 71 81 22\\ 72 81 15\\ 73 81 22\\ 74 81 9.3\\ 75 81 9.3\\ 76 81 1.07\\ 78 81 1.07\\ 79 81 2.4\\ 83 81 1.07\\ 88 81 1.07\\ 61 80 5.7\\ 62 80 54\\ 63 80 54\\ 64 80 33\\ 65 80 5.7\\ 66 80 15\\ 67 80 54\\ 68 80 15\\ 69 80 33\\ 70 80 15\\ 71 80 22\\ 72 80 5.7\\ 73 80 15\\ 74 80 5.7\\ 75 80 3.8\\ 76 80 3.8\\ 77 80 1.07\\ 78 80 3.8\\ 79 80 1.07\\ 80 80 1.07\\ 88 80 1.07\\
61 79 9.3\\ 62 79 70\\ 63 79 54\\ 64 79 33\\ 65 79 22\\ 66 79 33\\ 67 79 22\\ 68 79 22\\ 69 79 22\\ 70 79 15\\ 71 79 22\\ 72 79 9.3\\ 73 79 9.3\\ 74 79 1.07\\ 75 79 2.4\\ 59 78 1.07\\ 60 78 3.8\\ 61 78 33\\ 62 78 80\\ 63 78 54\\ 64 78 33\\ 65 78 22\\ 66 78 15\\ 67 78 15\\ 68 78 33\\ 69 78 15\\ 70 78 33\\ 71 78 9.3\\ 72 78 9.3\\ 73 78 5.7\\ 74 78 5.7\\ 75 78 3.8\\ 76 78 1.07\\
60 77 1.6\\ 61 77 33\\ 62 77 80\\ 63 77 80\\ 64 77 33\\ 65 77 22\\ 66 77 33\\ 67 77 33\\ 68 77 15\\ 69 77 22\\ 70 77 15\\ 71 77 15\\ 72 77 5.7\\ 73 77 5.7\\ 74 77 3.8\\ 75 77 1.07\\ 76 77 2.4\\ 78 77 1.07\\ 81 77 1.07\\ 60 76 1.07\\ 61 76 54\\ 62 76 80\\ 63 76 80\\ 64 76 33\\ 65 76 22\\ 66 76 15\\ 67 76 33\\ 68 76 22\\ 69 76 9.3\\ 70 76 15\\ 71 76 15\\ 72 76 9.3\\ 73 76 9.3\\ 74 76 1.6\\ 75 76 1.07\\ 77 76 1.07\\ 78 76 1.07\\
56 75 1.07\\ 58 75 1.07\\ 60 75 1.6\\ 61 75 54\\ 62 75 80\\ 63 75 80\\ 64 75 54\\ 65 75 22\\ 66 75 22\\ 67 75 22\\ 68 75 22\\ 69 75 22\\ 70 75 9.3\\ 71 75 3.8\\ 72 75 9.3\\ 74 75 5.7\\ 75 75 1.07\\ 76 75 1.07\\ 58 74 1.07\\ 59 74 2.4\\ 60 74 2.4\\ 61 74 54\\ 62 74 80\\ 63 74 80\\ 64 74 54\\ 65 74 22\\ 66 74 22\\ 67 74 15\\ 68 74 15\\ 69 74 9.3\\ 70 74 5.7\\ 71 74 9.3\\ 72 74 1.07\\ 73 74 1.6\\ 77 74 1.07\\
57 73 1.07\\ 59 73 1.07\\ 60 73 5.7\\ 61 73 54\\ 62 73 80\\ 63 73 80\\ 64 73 54\\ 65 73 33\\ 66 73 22\\ 67 73 9.3\\ 68 73 5.7\\ 69 73 5.7\\ 70 73 5.7\\ 71 73 1.07\\ 72 73 5.7\\ 73 73 3.8\\ 74 73 1.07\\ 75 73 1.07\\ 84 73 1.07\\ 60 72 1.07\\ 61 72 80\\ 62 72 80\\ 63 72 54\\ 64 72 33\\ 65 72 15\\ 66 72 33\\ 67 72 3.8\\ 68 72 9.3\\ 69 72 5.7\\ 70 72 5.7\\ 71 72 2.4\\ 73 72 1.07\\ 82 72 1.07\\
59 71 1.07\\ 60 71 3.8\\ 61 71 54\\ 62 71 80\\ 63 71 54\\ 64 71 33\\ 65 71 15\\ 66 71 5.7\\ 67 71 9.3\\ 68 71 5.7\\ 69 71 3.8\\ 70 71 1.6\\ 71 71 1.6\\ 72 71 1.07\\ 60 70 2.4\\ 61 70 33\\ 62 70 33\\ 63 70 54\\ 64 70 5.7\\ 65 70 5.7\\ 66 70 3.8\\ 67 70 1.6\\ 68 70 3.8\\ 69 70 2.4\\ 70 70 2.4\\ 71 70 2.4\\ 73 70 1.07\\ 57 69 1.07\\ 61 69 33\\ 62 69 33\\ 63 69 22\\ 64 69 15\\ 65 69 3.8\\ 66 69 1.6\\ 67 69 1.6\\ 68 69 1.07\\ 69 69 3.8\\ 70 69 2.4\\ 71 69 1.07\\ 82 69 1.07\\
60 68 2.4\\ 61 68 15\\ 62 68 33\\ 63 68 15\\ 64 68 9.3\\ 65 68 5.7\\ 66 68 5.7\\ 67 68 2.4\\ 68 68 5.7\\ 59 67 2.4\\ 61 67 15\\ 62 67 22\\ 63 67 5.7\\ 64 67 3.8\\ 65 67 1.6\\ 66 67 1.07\\ 67 67 1.07\\ 69 67 1.07\\ 61 66 5.7\\ 62 66 15\\ 63 66 5.7\\ 64 66 5.7\\ 66 66 3.8\\ 67 66 1.07\\ 71 66 1.07\\ 60 65 1.07\\ 61 65 5.7\\ 62 65 9.3\\ 63 65 1.07\\ 64 65 1.07\\ 65 65 3.8\\ 66 65 2.4\\
60 64 1.07\\ 61 64 3.8\\ 62 64 5.7\\ 63 64 1.6\\ 64 64 1.6\\ 75 64 1.07\\ 61 63 3.8\\ 62 63 3.8\\ 63 63 5.7\\ 64 63 1.07\\ 66 63 1.07\\ 67 63 1.07\\ 59 62 1.07\\ 61 62 3.8\\ 62 62 9.3\\ 63 62 1.07\\ 64 62 1.07\\ 85 62 1.07\\ 61 61 9.3\\ 62 61 2.4\\ 63 61 1.07\\ 61 60 1.6\\ 62 60 3.8\\ 63 60 1.6\\ 64 60 1.07\\ 59 59 1.07\\ 60 59 1.07\\ 61 59 2.4\\ 62 59 2.4\\ 59 58 1.07\\ 61 58 1.07\\ 63 57 1.07\\ 61 56 1.07\\ 68 56 1.07\\ 62 55 1.07\\ 68 55 1.07\\ 67 54 1.07\\ 62 53 1.07\\ 61 52 1.07\\ 60 51 1.07\\ 90 50 1.07\\
47 39 1.07\\ 61 38 1.07\\ 70 41 1.07\\ 77 37 1.07\\ 88 36 1.07\\ 91 34 1.07\\ 65 32 1.07\\ 45 29 1.07\\ 67 29 1.07\\ 77 9 1.07\\ 48 23 1.07\\ 41 51 1.07\\
}\dataC
% 3 blocks
\pgfplotstableread[row sep=\\]{x y z\\
36 4 1\\ 36 6 3.2\\ 36 7 16\\ 36 8 23.5\\ 36 9 23.5\\ 36 10 23.5\\ 36 11 23.5\\ 36 12 23.5\\ 36 13 23.5\\ 36 14 23.5\\ 36 15 23.5\\ 36 16 16\\ 36 17 23.5\\ 36 18 16\\ 36 19 23.5\\ 36 20 36.5\\ 36 21 52\\ 36 22 52\\ 36 23 52\\ 36 24 137\\ 36 25 212\\ 36 26 330\\ 36 27 330\\ 36 28 442\\ 36 29 442\\ 36 30 442\\ 36 31 442\\ 36 32 442\\ 36 33 738\\ 36 34 738\\ 36 35 738\\ 36 36 738\\ 36 37 738\\ 36 38 442\\ 36 39 442\\ 36 40 442\\ 36 41 442\\ 36 42 442\\ 36 43 330\\ 36 44 330\\ 36 45 330\\ 36 46 212\\ 36 47 212\\ 36 48 212\\ 36 49 212\\ 36 50 212\\ 36 51 137\\ 36 52 137\\ 36 53 137\\
36 54 52\\ 36 55 52\\ 36 56 52\\ 36 57 52\\ 36 58 52\\ 36 59 52\\ 36 60 52\\ 36 61 52\\ 36 62 52\\ 36 63 52\\ 36 64 52\\ 36 65 52\\ 36 66 52\\ 36 67 52\\ 36 68 52\\ 36 69 52\\ 36 70 52\\ 36 71 52\\ 36 72 52\\ 36 73 52\\ 36 74 52\\ 36 75 52\\ 36 76 36.5\\ 36 77 36.5\\ 36 78 36.5\\ 36 79 36.5\\ 36 80 16\\ 36 81 36.5\\ 36 82 16\\ 36 83 7.3\\ 36 84 4.7\\ 36 85 2.1\\ 36 86 1\\ 36 87 3.2\\ 36 88 1\\ 36 89 1\\
37 7 3.2\\ 37 8 1\\ 37 10 1\\ 37 12 1\\ 37 14 1\\ 37 16 1\\ 37 17 1\\ 37 18 3.2\\ 37 20 2.1\\ 37 21 1\\ 37 22 4.7\\ 37 23 7.3\\ 37 24 11\\ 37 25 16\\ 37 26 23.5\\ 37 27 36.5\\ 37 28 52\\ 37 29 52\\ 37 30 52\\ 37 31 52\\ 37 32 52\\ 37 33 137\\ 37 34 137\\ 37 35 137\\ 37 36 137\\ 37 37 212\\ 37 38 137\\ 37 39 137\\ 37 40 137\\ 37 41 52\\ 37 42 52\\ 37 43 52\\ 37 44 52\\ 37 45 52\\ 37 46 52\\ 37 47 52\\ 37 48 52\\ 37 49 52\\ 37 50 52\\ 37 51 36.5\\ 37 52 36.5\\ 37 53 36.5\\ 37 54 23.5\\ 37 55 36.5\\ 37 56 36.5\\ 37 57 23.5\\ 37 58 36.5\\ 37 59 7.3\\ 37 60 7.3\\ 37 61 11\\ 37 62 16\\ 37 63 36.5\\ 37 64 23.5\\ 37 65 11\\ 37 66 11\\ 37 67 11\\ 37 68 11\\ 37 69 11\\ 37 70 16\\ 37 71 23.5\\ 37 72 16\\ 37 73 11\\ 37 74 11\\ 37 75 7.3\\ 37 76 4.7\\ 37 77 7.3\\ 37 78 2.1\\ 37 79 1\\ 37 80 1\\ 37 81 1\\ 37 82 3.2\\ 37 83 2.1\\ 37 84 2.1\\
35 8 1\\ 35 11 2.1\\ 35 13 1\\ 35 20 1\\ 35 23 2.1\\ 35 24 2.1\\ 35 25 2.1\\ 35 27 3.2\\ 35 28 1\\ 35 30 1\\ 35 33 3.2\\ 35 36 3.2\\ 35 38 1\\ 35 39 1\\ 35 40 1\\ 35 42 2.1\\ 35 44 1\\ 35 45 1\\ 35 47 1\\ 35 51 1\\ 35 53 1\\ 35 54 1\\ 35 55 3.2\\ 35 56 3.2\\ 35 58 2.1\\ 35 59 1\\ 35 60 1\\ 35 62 2.1\\ 35 63 2.1\\ 35 65 3.2\\ 35 66 3.2\\ 35 67 3.2\\ 35 69 2.1\\ 35 72 3.2\\ 35 73 3.2\\ 35 74 4.7\\ 35 75 4.7\\ 35 83 1\\ 35 85 2.1\\ 35 86 1\\
34 63 2.1\\ 34 62 1\\ 34 61 1\\ 34 58 2.1\\ 34 56 1\\ 34 55 3.2\\ 34 52 1\\ 34 51 1\\ 34 48 1\\ 34 43 1\\ 34 37 2.1\\ 34 71 1\\ 34 73 1\\ 33 68 1\\ 33 63 3.2\\ 33 61 1\\ 33 54 2.1\\ 33 52 2.1\\ 33 47 2.1\\ 33 45 2.1\\ 33 35 1\\ 33 32 1\\ 32 54 1\\ 32 49 1\\ 32 40 1\\ 31 74 1\\ 31 29 1\\ 30 44 1\\ 30 26 1\\ 30 4 1\\
38 79 1\\ 38 60 1\\ 38 54 1\\ 38 49 1\\ 38 46 1\\ 38 44 1\\ 38 41 1\\ 38 39 1\\ 38 38 1\\ 38 37 1\\ 38 34 1\\ 38 33 1\\ 38 32 1\\ 38 30 1\\ 38 29 1\\ 38 22 1\\ 38 17 1\\ 38 16 1\\ 38 7 1\\ 39 59 1\\ 39 51 1\\ 39 42 2.1\\ 39 39 1\\ 39 38 1\\ 39 37 1\\ 39 34 1\\ 39 32 1\\ 39 27 2.1\\ 39 21 2.1\\ 39 9 2.1\\ 39 8 1\\ 40 49 1\\ 40 46 1\\ 40 44 1\\ 40 25 1\\ 40 24 1\\ 40 15 1\\ 40 12 1\\ 41 83 1\\ 41 75 1\\ 41 64 1\\ 41 49 1\\ 41 41 1\\ 41 9 1\\ 42 80 1\\ 42 38 1\\ 43 40 3.2\\ 43 28 1\\ 44 59 1\\ 44 50 1\\ 44 40 1\\ 44 27 1\\ 44 21 1\\ 44 14 1\\ 44 10 1\\
91 89 1\\ 92 89 1\\ 98 89 1\\ 72 88 1\\ 73 88 1\\ 79 88 1\\ 84 88 1\\ 86 88 3.2\\ 87 88 1\\ 88 88 1\\ 89 88 1.45\\ 90 88 3.2\\ 92 88 1\\ 95 88 1\\ 96 88 2.1\\ 97 88 1\\ 98 88 1\\ 99 88 1\\ 69 87 1\\ 72 87 1\\ 78 87 1\\ 81 87 1\\ 82 87 1\\ 83 87 3.2\\ 85 87 1\\ 86 87 2.1\\ 87 87 1\\ 88 87 2.1\\ 89 87 1\\ 90 87 2.1\\ 92 87 1\\ 93 87 3.2\\ 94 87 1\\ 95 87 2.1\\ 96 87 2.1\\ 98 87 1\\ 102 87 1\\ 108 87 1\\
77 86 1\\ 78 86 1\\ 80 86 1\\ 81 86 1\\ 83 86 3.2\\ 84 86 2.1\\ 87 86 1\\ 88 86 3.2\\ 89 86 3.2\\ 90 86 1\\ 91 86 2.1\\ 93 86 1\\ 94 86 1\\ 96 86 1\\ 97 86 1\\ 98 86 2.1\\ 99 86 1\\ 101 86 1\\ 68 85 1\\ 72 85 2.1\\ 73 85 2.1\\ 77 85 1\\ 78 85 1\\ 79 85 2.1\\ 80 85 1\\ 81 85 1\\ 82 85 2.1\\ 84 85 1\\ 85 85 3.2\\ 86 85 1\\ 87 85 2.1\\ 88 85 4.7\\ 89 85 3.2\\ 90 85 3.2\\ 91 85 2.1\\ 92 85 2.1\\ 93 85 1\\ 94 85 1\\ 95 85 1\\
69 84 1\\ 70 84 4.7\\ 71 84 3.2\\ 73 84 4.7\\ 74 84 3.2\\ 75 84 2.1\\ 76 84 1\\ 77 84 1\\ 78 84 4.7\\ 79 84 2.1\\ 80 84 4.7\\ 81 84 4.7\\ 82 84 3.2\\ 83 84 3.2\\ 84 84 4.7\\ 85 84 7.3\\ 86 84 4.7\\ 87 84 3.2\\ 88 84 2.1\\ 89 84 4.7\\ 90 84 4.7\\ 91 84 3.2\\ 92 84 3.2\\ 93 84 4.7\\ 94 84 3.2\\ 96 84 1\\ 97 84 2.1\\ 66 83 1\\ 68 83 4.7\\ 69 83 4.7\\ 70 83 7.3\\ 71 83 7.3\\ 72 83 7.3\\ 73 83 11\\ 74 83 4.7\\ 75 83 1.45\\ 76 83 7.3\\ 77 83 7.3\\ 78 83 2.1\\ 79 83 4.7\\ 80 83 7.3\\ 81 83 4.7\\ 82 83 11\\ 83 83 7.3\\ 84 83 11\\ 85 83 11\\ 86 83 11\\ 87 83 1\\ 88 83 7.3\\ 89 83 11\\ 90 83 11\\ 91 83 3.2\\ 92 83 3.2\\ 93 83 1\\ 94 83 1\\ 95 83 1\\
67 82 3.2\\ 68 82 11\\ 69 82 16\\ 70 82 23.5\\ 71 82 23.5\\ 72 82 16\\ 73 82 16\\ 74 82 11\\ 75 82 11\\ 76 82 11\\ 77 82 4.7\\ 78 82 11\\ 79 82 11\\ 80 82 16\\ 81 82 4.7\\ 82 82 7.3\\ 83 82 11\\ 84 82 7.3\\ 85 82 11\\ 86 82 4.7\\ 87 82 11\\ 88 82 4.7\\ 89 82 4.7\\ 90 82 4.7\\ 91 82 4.7\\ 92 82 2.1\\ 67 81 4.7\\ 68 81 23.5\\ 69 81 36.5\\ 70 81 36.5\\ 71 81 36.5\\ 72 81 16\\ 73 81 23.5\\ 74 81 11\\ 75 81 11\\ 76 81 3.2\\ 77 81 16\\ 78 81 4.7\\ 79 81 7.3\\ 80 81 7.3\\ 81 81 7.3\\ 82 81 7.3\\ 83 81 7.3\\ 84 81 3.2\\ 85 81 3.2\\ 86 81 2.1\\ 87 81 2.1\\ 88 81 1\\ 89 81 2.1\\ 90 81 3.2\\ 91 81 2.1\\ 92 81 4.7\\ 94 81 1\\
64 80 1\\ 66 80 1\\ 67 80 23.5\\ 68 80 23.5\\ 69 80 36.5\\ 70 80 23.5\\ 71 80 23.5\\ 72 80 23.5\\ 73 80 23.5\\ 74 80 23.5\\ 75 80 4.7\\ 76 80 7.3\\ 77 80 4.7\\ 78 80 11\\ 79 80 4.7\\ 80 80 4.7\\ 81 80 3.2\\ 82 80 1\\ 83 80 4.7\\ 84 80 7.3\\ 85 80 2.1\\ 86 80 1\\ 87 80 1\\ 88 80 1\\ 89 80 1\\ 92 80 1\\ 62 79 1\\ 66 79 1\\ 67 79 16\\ 68 79 36.5\\ 69 79 23.5\\ 70 79 23.5\\ 71 79 16\\ 72 79 23.5\\ 73 79 16\\ 74 79 11\\ 75 79 4.7\\ 76 79 7.3\\ 77 79 4.7\\ 78 79 2.1\\ 79 79 11\\ 80 79 4.7\\ 81 79 1\\ 82 79 4.7\\ 83 79 1\\ 84 79 3.2\\ 85 79 1\\ 86 79 1\\ 87 79 1\\
65 78 1\\ 66 78 1\\ 67 78 11\\ 68 78 23.5\\ 69 78 36.5\\ 70 78 36.5\\ 71 78 23.5\\ 72 78 23.5\\ 73 78 7.3\\ 74 78 4.7\\ 75 78 4.7\\ 76 78 7.3\\ 77 78 7.3\\ 78 78 2.1\\ 79 78 2.1\\ 81 78 2.1\\ 82 78 3.2\\ 83 78 4.7\\ 84 78 4.7\\ 88 78 1\\ 66 77 1\\ 67 77 11\\ 68 77 23.5\\ 69 77 36.5\\ 70 77 23.5\\ 71 77 23.5\\ 72 77 16\\ 73 77 4.7\\ 74 77 3.2\\ 75 77 3.2\\ 76 77 3.2\\ 77 77 4.7\\ 78 77 2.1\\ 79 77 4.7\\ 81 77 2.1\\ 82 77 1.45\\ 83 77 1.45\\ 84 77 1.45\\
64 76 2.1\\ 67 76 7.3\\ 68 76 36.5\\ 69 76 16\\ 70 76 23.5\\ 71 76 23.5\\ 72 76 4.7\\ 73 76 7.3\\ 74 76 2.1\\ 75 76 1\\ 76 76 1\\ 77 76 1\\ 79 76 1\\ 80 76 1\\ 84 76 1\\ 63 75 1\\ 66 75 1\\ 67 75 4.7\\ 68 75 36.5\\ 69 75 23.5\\ 70 75 23.5\\ 71 75 11\\ 72 75 4.7\\ 73 75 11\\ 74 75 1\\ 75 75 2.1\\ 76 75 3.2\\ 77 75 3.2\\ 79 75 1\\ 63 74 1\\ 66 74 2.1\\ 67 74 4.7\\ 68 74 23.5\\ 69 74 23.5\\ 70 74 11\\ 71 74 23.5\\ 72 74 7.3\\ 73 74 1.45\\ 74 74 2.1\\ 76 74 1\\ 80 74 1\\
66 73 1.45\\ 67 73 4.7\\ 68 73 11\\ 69 73 7.3\\ 70 73 11\\ 71 73 4.7\\ 72 73 4.7\\ 73 73 1\\ 75 73 2.1\\ 76 73 1\\ 77 73 1\\ 67 72 4.7\\ 68 72 7.3\\ 69 72 7.3\\ 70 72 4.7\\ 72 72 3.2\\ 73 72 1\\ 74 72 1\\ 75 72 1\\ 65 71 1\\ 67 71 4.7\\ 68 71 4.7\\ 69 71 4.7\\ 70 71 7.3\\ 77 71 1\\ 67 70 3.2\\ 68 70 2.1\\ 69 70 2.1\\ 70 70 2.1\\ 66 69 1\\ 68 69 2.1\\ 69 69 2.1\\ 71 69 1\\ 93 69 1\\ 66 68 1\\ 68 68 1\\ 67 67 2.1\\ 68 67 1\\ 69 67 1\\ 68 66 2.1\\ 68 65 1\\ 68 64 1\\ 64 63 1\\ 68 63 1\\ 72 63 1\\ 81 61 1\\ 82 61 1\\
59 40 1\\ 61 34 1\\ 65 35 1\\ 71 33 1\\ 82 38 1\\ 48 29 1\\ 54 31 1\\ 75 37 1\\ 88 8 1\\ 46 51 1\\ 58 56 1\\ 52 17 1\\
}\dataD
% #1 left, #2 bottom, #3 title, #4 data, #5 log min, #6 log max, #7 box right
\newcommand{\panel}[7]{%
\begin{axis}[at={(#1bp,#2bp)},anchor=south west,scale only axis,width=217.2bp,height=165bp,
  xmin=20,xmax=120,ymin=0,ymax=0.45,axis on top,
  axis background/.style={fill=bgdark},
  axis line style={redline,line width=1.1bp},
  tick align=inside,tick style={redline,line width=1.1bp},
  major tick length=7.8bp,minor tick length=4bp,
  xtick={20,30,...,120},xticklabels={20,30,40,50,60,70,80,90,100,110,120},
  xtick style={draw=none},xticklabel pos=lower,
  xticklabel style={yshift=1.2bp},
  ytick={0,0.05,...,0.46},yticklabels={0,0.05,0.1,0.15,0.2,0.25,0.3,0.35,0.4,0.45},
  yticklabel style={xshift=0.8bp},
  minor y tick num=4,
  tick label style={font=\fnt},
  title={#3},title style={at={(0.5,1.056)},anchor=base,yshift=-5.5bp,xshift=2.7bp,font=\fontsize{11.3}{13}\selectfont},
  xlabel={t\sub{S3}-t\sub{S1} [ns]},
  every axis x label/.style={at={(axis description cs:1,-0.145)},anchor=base east,inner sep=0pt,font=\fnt},
  ylabel={A1 [V]},
  every axis y label/.style={at={(axis description cs:-0.1404,1)},rotate=90,anchor=base east,inner sep=0pt,font=\fnt},
  colormap name=rootpal,point meta min=#5,point meta max=#6,
  colorbar shift/.style={xshift=0.7bp},
  colorbar sampled,
  colorbar style={samples=51,at={(parent axis.north east)},anchor=north west,
    width=14.4bp,height=165bp,axis x line=none,axis y line*=right,
    y axis line style={black,line width=0.9bp},
    tick align=inside,tick style={black,line width=0.6bp},
    major tick length=7bp,minor tick length=3.2bp,
    ytick={0,1,2,3},yticklabels={1,10,10\textsuperscript{2},10\textsuperscript{3}},
    minor ytick={-0.301,-0.222,-0.155,-0.097,-0.046,0.301,0.477,0.602,0.699,0.778,0.845,0.903,0.954,1.301,1.477,1.602,1.699,1.778,1.845,1.903,1.954,2.301,2.477,2.602,2.699,2.778,2.845,2.903,2.954,3.301,3.477,3.602,3.699},
    yticklabel style={font=\fnt,xshift=1.3bp},
    ylabel={Events / ns / 0.0045 V},
    every axis y label/.style={at={(axis description cs:3.4,1)},rotate=90,anchor=base east,inner sep=0pt,font=\fnt}},
]
\addplot[scatter,only marks,scatter src=explicit,mark=cell] table[x expr=\thisrow{x}+0.3,y expr=(\thisrow{y}+0.5)*0.0045,meta expr=log10(\thisrow{z})] {#4};
\end{axis}
\begin{axis}[at={(#1bp,#2bp)},anchor=south west,scale only axis,width=217.2bp,height=165bp,
  xmin=20,xmax=120,ymin=0,ymax=0.45,
  axis line style={redline,line width=1.1bp},
  tick align=inside,tick style={redline,line width=1.1bp},
  major tick length=4.4bp,minor tick length=2.2bp,
  xtick={20,30,...,120},minor x tick num=4,ytick=\empty,xticklabels={},
]
\addplot[greenline,line width=2bp,dash pattern=on 3.6bp off 3.42bp] coordinates {(35.8,0) (35.8,0.45)};
\addplot[greenline,line width=2bp,dash pattern=on 3.6bp off 3.42bp] coordinates {(37.8,0) (37.8,0.45)};
\addplot[redline,line width=2bp,dash pattern=on 3.8bp off 3.2bp] coordinates {(53,0.2) (53,0.45)};
\addplot[redline,line width=2bp,dash pattern=on 3.8bp off 3.2bp] coordinates {(#7,0.2) (#7,0.45)};
\addplot[redline,line width=2bp,dash pattern=on 3.8bp off 3.2bp] coordinates {(53,0.2) (#7,0.2)};
\end{axis}}
\begin{document}
\begin{tikzpicture}[x=1bp,y=1bp]
\path[use as bounding box] (0,0) rectangle (643,438);
\panel{41.7}{252.7}{0 blocks}{\dataA}{-0.31}{3.66}{79.9}
\panel{373.5}{252.7}{1 block}{\dataB}{-0.274}{3.411}{114.8}
\panel{41.7}{28.9}{2 blocks}{\dataC}{-0.284}{3.19}{114.8}
\panel{373.5}{28.9}{3 blocks}{\dataD}{-0.285}{2.90}{114.8}
\end{tikzpicture}
\end{document}
